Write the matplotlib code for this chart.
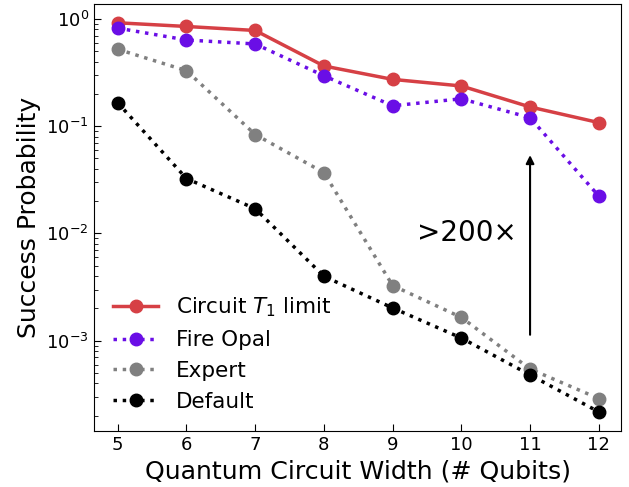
import matplotlib.pyplot as plt
import numpy as np

qubits = [5, 6, 7, 8, 9, 10, 11, 12]

t1_limit = [0.92, 0.85, 0.78, 0.364, 0.273, 0.237, 0.151, 0.108]
fire_opal = [0.82, 0.636, 0.584, 0.295, 0.155, 0.18, 0.12, 0.0223]
expert = [0.521, 0.329, 0.0836, 0.0369, 0.00327, 0.00165, 0.000545, 0.000289]
default = [0.165, 0.0325, 0.017, 0.00399, 0.00202, 0.00106, 0.00048, 0.000217]

fig, ax = plt.subplots(figsize=(6.29, 4.87), dpi=100)
fig.subplots_adjust(left=0.149, right=0.988, bottom=0.115, top=0.992)

ax.plot(qubits, t1_limit, marker='o', linestyle='-', color='#d64045', lw=2.5, ms=9,
        label=r'Circuit $T_1$ limit')
ax.plot(qubits, fire_opal, marker='o', linestyle=':', color='#6a0ee6', lw=2.5, ms=9,
        label='Fire Opal')
ax.plot(qubits, expert, marker='o', linestyle=':', color='gray', lw=2.5, ms=9,
        label='Expert')
ax.plot(qubits, default, marker='o', linestyle=':', color='black', lw=2.5, ms=9,
        label='Default')

# flecha de mejora
ax.annotate('', xy=(11, 0.057), xytext=(11, 0.00107),
            arrowprops=dict(arrowstyle='-|>', color='black', lw=1.5, mutation_scale=12))
ax.text(10.8, 0.0102, '>200×', fontsize=20, ha='right', va='center')

ax.set_yscale('log')
ax.set_ylim(1.44e-4, 1.38)
ax.set_xlim(4.65, 12.33)
ax.set_xticks(qubits)
ax.tick_params(which='both', direction='in', labelsize=13)
ax.tick_params(which='major', length=5)
ax.tick_params(which='minor', length=3)

ax.set_xlabel('Quantum Circuit Width (# Qubits)', fontsize=18.2)
ax.set_ylabel('Success Probability', fontsize=18)
ax.legend(loc='lower left', fontsize=15.5, frameon=False, handlelength=2.1)

plt.savefig('out.png')
